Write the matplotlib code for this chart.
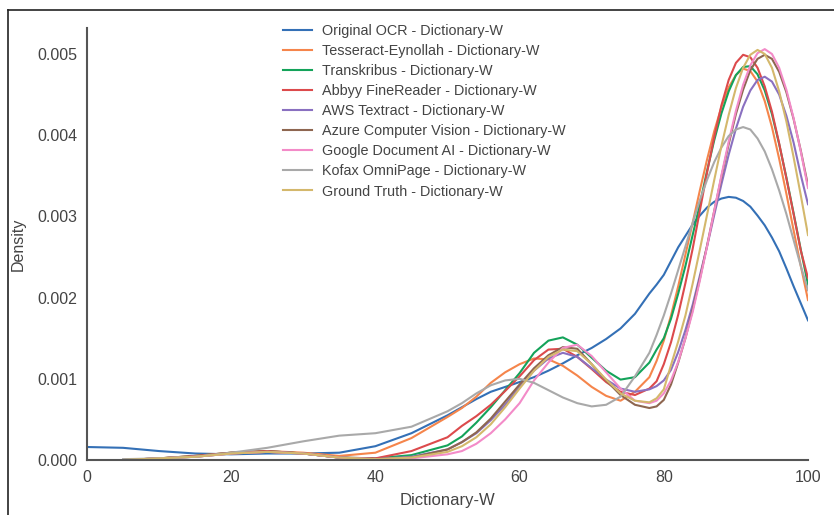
import matplotlib.pyplot as plt
from matplotlib.lines import Line2D

plt.rcParams['font.family'] = ['Liberation Sans', 'DejaVu Sans']

# KDE curves, density in units of 1e-3
x_low = [0, 5, 10, 15, 20, 25, 30, 35, 40, 45]
x_mid = [50, 52, 54, 56, 58, 60, 62, 64, 66, 68, 70, 72, 74, 76]
x_peak = [78, 79, 80, 81, 82, 83, 84, 85, 86, 87, 88, 89,
          90, 91, 92, 93, 94, 95, 96, 97, 98, 99, 100]
x_grid = x_low + x_mid + x_peak

original_ocr = ([0.16, 0.15, 0.11, 0.08, 0.07, 0.08, 0.08, 0.09, 0.17, 0.33]
                + [0.55, 0.65, 0.75, 0.84, 0.90, 0.96, 1.02, 1.10, 1.19, 1.29, 1.38, 1.49, 1.62, 1.80]
                + [2.05, 2.16, 2.28, 2.45, 2.62, 2.76, 2.90, 3.01, 3.11, 3.18, 3.22, 3.24,
                   3.23, 3.19, 3.12, 3.01, 2.89, 2.74, 2.57, 2.36, 2.14, 1.93, 1.72])
tesseract = ([None, 0.0, 0.02, 0.05, 0.09, 0.11, 0.09, 0.05, 0.09, 0.27]
             + [0.53, 0.64, 0.78, 0.95, 1.08, 1.18, 1.25, 1.24, 1.16, 1.04, 0.90, 0.79, 0.73, 0.84]
             + [1.02, 1.22, 1.47, 1.78, 2.14, 2.53, 2.92, 3.32, 3.70, 4.05, 4.35, 4.59,
                4.74, 4.82, 4.79, 4.66, 4.42, 4.10, 3.71, 3.28, 2.83, 2.39, 1.97])
transkribus = ([None, 0.0, 0.02, 0.05, 0.09, 0.11, 0.08, 0.03, 0.02, 0.06]
               + [0.18, 0.29, 0.46, 0.65, 0.86, 1.07, 1.32, 1.47, 1.51, 1.42, 1.26, 1.10, 0.99, 1.02]
               + [1.20, 1.36, 1.50, 1.74, 2.05, 2.39, 2.77, 3.15, 3.56, 3.94, 4.27, 4.54,
                  4.74, 4.84, 4.85, 4.75, 4.55, 4.26, 3.89, 3.48, 3.04, 2.59, 2.16])
abbyy = ([None, 0.0, 0.02, 0.05, 0.09, 0.11, 0.08, 0.03, 0.02, 0.11]
         + [0.28, 0.42, 0.54, 0.68, 0.85, 1.03, 1.23, 1.36, 1.37, 1.27, 1.12, 0.96, 0.84, 0.80]
         + [0.88, 0.97, 1.18, 1.45, 1.79, 2.18, 2.60, 3.07, 3.54, 3.98, 4.37, 4.68,
            4.89, 4.99, 4.96, 4.83, 4.60, 4.29, 3.90, 3.47, 3.03, 2.58, 2.24])
aws = ([None, 0.0, 0.02, 0.04, 0.08, 0.10, 0.08, 0.03, 0.01, 0.04]
       + [0.13, 0.22, 0.33, 0.49, 0.68, 0.90, 1.10, 1.25, 1.32, 1.27, 1.13, 0.99, 0.88, 0.84]
       + [0.87, 0.91, 0.98, 1.11, 1.33, 1.60, 1.91, 2.27, 2.63, 3.02, 3.40, 3.76,
          4.08, 4.35, 4.55, 4.68, 4.72, 4.66, 4.50, 4.24, 3.91, 3.51, 3.15])
azure = ([None, 0.0, 0.02, 0.04, 0.08, 0.10, 0.08, 0.03, 0.01, 0.03]
         + [0.13, 0.22, 0.34, 0.51, 0.72, 0.93, 1.13, 1.29, 1.39, 1.37, 1.18, 0.98, 0.80, 0.68]
         + [0.64, 0.66, 0.74, 0.93, 1.20, 1.50, 1.85, 2.23, 2.64, 3.07, 3.49, 3.89,
            4.26, 4.56, 4.80, 4.94, 4.99, 4.94, 4.78, 4.53, 4.20, 3.81, 3.38])
google = ([None, 0.0, 0.02, 0.04, 0.08, 0.10, 0.08, 0.03, 0.01, 0.02]
          + [0.07, 0.11, 0.20, 0.33, 0.50, 0.70, 0.98, 1.20, 1.38, 1.42, 1.28, 1.08, 0.88, 0.73]
          + [0.70, 0.73, 0.82, 0.98, 1.21, 1.50, 1.82, 2.21, 2.63, 3.07, 3.51, 3.92,
             4.30, 4.62, 4.86, 5.01, 5.06, 5.00, 4.83, 4.56, 4.21, 3.80, 3.35])
kofax = ([None, 0.01, 0.02, 0.04, 0.09, 0.15, 0.23, 0.30, 0.33, 0.41]
         + [0.60, 0.70, 0.82, 0.92, 0.98, 1.00, 0.95, 0.86, 0.77, 0.70, 0.66, 0.68, 0.78, 1.03]
         + [1.32, 1.54, 1.78, 2.05, 2.34, 2.63, 2.92, 3.20, 3.45, 3.67, 3.85, 3.99,
            4.07, 4.10, 4.07, 3.96, 3.80, 3.58, 3.32, 3.03, 2.71, 2.39, 2.09])
ground_truth = ([None, 0.0, 0.02, 0.04, 0.08, 0.10, 0.08, 0.03, 0.01, 0.03]
                + [0.10, 0.17, 0.28, 0.44, 0.65, 0.88, 1.10, 1.27, 1.36, 1.34, 1.18, 0.99, 0.82, 0.73]
                + [0.71, 0.76, 0.87, 1.17, 1.46, 1.78, 2.17, 2.59, 3.02, 3.45, 3.87, 4.25,
                   4.58, 4.83, 4.99, 5.05, 5.00, 4.83, 4.54, 4.17, 3.73, 3.26, 2.77])

series = [
    ('Original OCR - Dictionary-W', original_ocr, '#3470b6'),
    ('Tesseract-Eynollah - Dictionary-W', tesseract, '#f5854b'),
    ('Transkribus - Dictionary-W', transkribus, '#14a35a'),
    ('Abbyy FineReader - Dictionary-W', abbyy, '#dc4a4c'),
    ('AWS Textract - Dictionary-W', aws, '#8a70c0'),
    ('Azure Computer Vision - Dictionary-W', azure, '#8e6650'),
    ('Google Document AI - Dictionary-W', google, '#f38bc8'),
    ('Kofax OmniPage - Dictionary-W', kofax, '#a9a9a9'),
    ('Ground Truth - Dictionary-W', ground_truth, '#d4b86c'),
]

fig = plt.figure(figsize=(8.34, 5.15), dpi=100)
ax = fig.add_axes([87 / 834, 55 / 515, 721 / 834, 432 / 515])

for label, vals, color in series:
    xs = [x for x, v in zip(x_grid, vals) if v is not None]
    ys = [v * 1e-3 for v in vals if v is not None]
    ax.plot(xs, ys, color=color, linewidth=1.5, label=label)

ax.set_xlim(0, 100)
ax.set_ylim(0, 0.00532)
ax.set_xticks([0, 20, 40, 60, 80, 100])
ax.set_yticks([0, 0.001, 0.002, 0.003, 0.004, 0.005])
ax.set_yticklabels(['0.000', '0.001', '0.002', '0.003', '0.004', '0.005'])
ax.tick_params(length=0, labelsize=11.5, labelcolor='#444444', pad=7)
for side in ['top', 'right']:
    ax.spines[side].set_visible(False)
for side in ['left', 'bottom']:
    ax.spines[side].set_color('#555555')
    ax.spines[side].set_linewidth(1.5)
ax.set_xlabel('Dictionary-W', fontsize=12, color='#444444', labelpad=6)
ax.set_ylabel('Density', fontsize=11.5, color='#444444')
ax.yaxis.set_label_coords(-61 / 721, 0.5)

ax.legend(loc='upper left', bbox_to_anchor=(283 / 834, 1 - 24 / 515),
          bbox_transform=fig.transFigure, frameon=False, fontsize=10.4,
          borderpad=0, borderaxespad=0, handlelength=2.0, handletextpad=0.7,
          labelspacing=0.42, labelcolor='#444444')

# outer frame of the original figure
fig.add_artist(Line2D([8 / 834, 8 / 834], [0, 1 - 10 / 515], transform=fig.transFigure,
                      color='#222222', linewidth=1.2))
fig.add_artist(Line2D([8 / 834, 1], [1 - 10 / 515, 1 - 10 / 515], transform=fig.transFigure,
                      color='#222222', linewidth=1.2))

fig.savefig('out.png', dpi=100)
